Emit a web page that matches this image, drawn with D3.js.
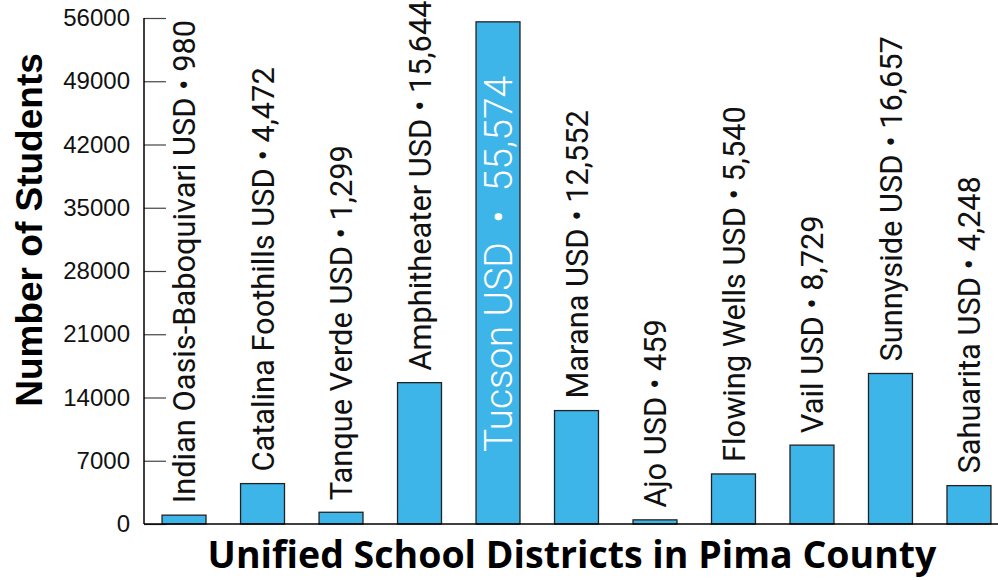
<!DOCTYPE html>
<html>
<head>
<meta charset="utf-8">
<script src="https://cdn.jsdelivr.net/npm/d3@7"></script>
<style>
  body { margin: 0; background: #fff; }
  svg { display: block; }
</style>
</head>
<body>
<svg></svg>
<script>
var WIDTH = 998;
var HEIGHT = 580;

// data
var districts = ['Indian Oasis-Baboquivari USD', 'Catalina Foothills USD', 'Tanque Verde USD',
  'Amphitheater USD', 'Tucson USD', 'Marana USD', 'Ajo USD', 'Flowing Wells USD',
  'Vail USD', 'Sunnyside USD', 'Sahuarita USD'];
var students = [980, 4472, 1299, 15644, 55574, 12552, 459, 5540, 8729, 16657, 4248];
var yTicks = [0, 7000, 14000, 21000, 28000, 35000, 42000, 49000, 56000];
var highlight = 'Tucson USD';

var data = districts.map(function(d, i) { return { name: d, value: students[i] }; });

var svg = d3.select('svg').attr('width', WIDTH).attr('height', HEIGHT);

var x0 = 144, yBottom = 524, yTop = 18;

var xScale = d3.scaleBand()
  .domain(districts)
  .range([x0, 1009])
  .paddingInner(0.44)
  .paddingOuter(0.23);

var yScale = d3.scaleLinear()
  .domain([0, 56000])
  .range([yBottom, yTop]);

// y axis with inward ticks
var yAxis = svg.append('g')
  .attr('transform', 'translate(' + x0 + ',0)')
  .call(d3.axisLeft(yScale).tickValues(yTicks).tickSize(-22).tickPadding(14).tickFormat(d3.format('d')));
yAxis.select('.domain').remove();
yAxis.selectAll('.tick line').attr('stroke', '#444').attr('stroke-width', 1.2);
yAxis.selectAll('.tick text')
  .attr('font-family', 'Liberation Sans, Arial, sans-serif')
  .attr('font-size', 24)
  .attr('fill', '#111');

svg.append('line')
  .attr('x1', x0).attr('x2', x0).attr('y1', yTop).attr('y2', yBottom)
  .attr('stroke', '#000').attr('stroke-width', 1.5);

// bars
svg.selectAll('rect.bar')
  .data(data)
  .enter()
  .append('rect')
  .attr('class', 'bar')
  .attr('x', function(d) { return xScale(d.name); })
  .attr('width', xScale.bandwidth())
  .attr('y', function(d) { return yScale(d.value); })
  .attr('height', function(d) { return yBottom - yScale(d.value); })
  .attr('fill', '#3db5e8')
  .attr('stroke', '#222')
  .attr('stroke-width', 1.3);

svg.append('line')
  .attr('x1', x0).attr('x2', WIDTH).attr('y1', yBottom).attr('y2', yBottom)
  .attr('stroke', '#000').attr('stroke-width', 1.5);

// bar labels
svg.selectAll('text.lbl')
  .data(data)
  .enter()
  .append('text')
  .attr('class', 'lbl')
  .attr('transform', function(d) {
    var cx = xScale(d.name) + xScale.bandwidth() / 2;
    var y = d.name === highlight ? 452 : yScale(d.value) - 12;
    return 'translate(' + cx + ',' + y + ') rotate(-90)';
  })
  .attr('dy', '0.36em')
  .attr('font-family', 'Roboto, sans-serif')
  .attr('font-weight', function(d) { return d.name === highlight ? 300 : 400; })
  .attr('font-size', function(d) { return d.name === highlight ? 39 : 30.8; })
  .attr('fill', function(d) { return d.name === highlight ? '#fff' : '#111'; })
  .attr('xml:space', 'preserve')
  .style('white-space', 'pre')
  .text(function(d) {
    var v = d3.format(',')(d.value);
    return d.name === highlight ? d.name + '  \u2022  ' + v : d.name + ' \u2022 ' + v;
  });

// axis titles
svg.append('text')
  .attr('transform', 'translate(42,230) rotate(-90)')
  .attr('text-anchor', 'middle')
  .attr('font-family', 'Liberation Sans, Arial, sans-serif')
  .attr('font-weight', 'bold')
  .attr('font-size', 37)
  .attr('fill', '#000')
  .text('Number of Students');

svg.append('text')
  .attr('x', 572)
  .attr('y', 568)
  .attr('text-anchor', 'middle')
  .attr('font-family', 'Open Sans, sans-serif')
  .attr('font-weight', 'bold')
  .attr('font-size', 37.5)
  .attr('fill', '#000')
  .text('Unified School Districts in Pima County');
</script>
</body>
</html>
